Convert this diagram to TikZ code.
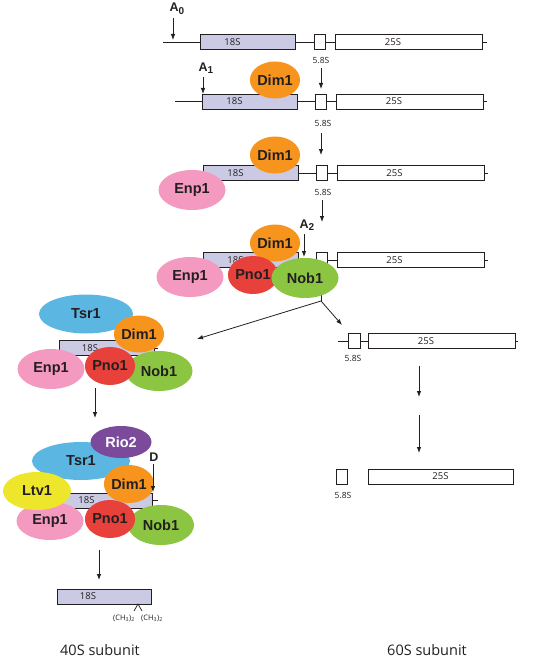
\documentclass[tikz,border=0pt]{standalone}
\usepackage{fontspec}
\setmainfont{Liberation Sans}
\newfontfamily\labfont{Open Sans}
\usetikzlibrary{shapes.geometric,arrows.meta,positioning}
\definecolor{ink}{HTML}{231F20}
\definecolor{lav}{HTML}{CBCAE5}
\definecolor{dimc}{HTML}{F7941D}
\definecolor{enpc}{HTML}{F49AC1}
\definecolor{pnoc}{HTML}{E8403B}
\definecolor{nobc}{HTML}{8BC541}
\definecolor{tsrc}{HTML}{5BB7E1}
\definecolor{rioc}{HTML}{7B4A9B}
\definecolor{ltvc}{HTML}{EDE62B}
\newcommand{\cutsite}[1]{A\raisebox{-2.5pt}{\fontsize{10}{10}\selectfont #1}}
\tikzset{
  rna/.style={draw=ink, line width=0.8pt, fill=white, inner sep=0pt, minimum height=15pt},
  s18/.style={rna, fill=lav, minimum width=95pt, label={[boxlab,xshift=#1]center:18S}},
  s18/.default=-15pt,
  s25/.style={rna, minimum width=147pt, label={[boxlab,xshift=#1]center:25S}},
  s25/.default=-16pt,
  s58/.style={rna, minimum width=11pt},
  lnk/.style={draw=ink, line width=0.8pt},
  arr/.style={draw=ink, line width=0.8pt, -{Latex[length=6pt,width=4.5pt]}},
  prot/.style={ellipse, inner sep=0pt, text=ink, font=\bfseries\fontsize{14.5}{16}\selectfont},
  dim/.style={prot, fill=dimc, minimum width=49pt, minimum height=37pt},
  enp/.style={prot, fill=enpc, minimum width=67pt, minimum height=40pt},
  pno/.style={prot, fill=pnoc, minimum width=46pt, minimum height=38pt},
  nob/.style={prot, fill=nobc, minimum width=67pt, minimum height=40pt},
  tsr/.style={prot, fill=tsrc, minimum width=96pt, minimum height=39pt},
  rio/.style={prot, fill=rioc, text=white, minimum width=61pt, minimum height=32pt},
  ltv/.style={prot, fill=ltvc, minimum width=68pt, minimum height=38pt},
  boxlab/.style={text=ink, inner sep=0pt, font=\labfont\fontsize{9.5}{11}\selectfont},
  smlab/.style={text=ink, inner sep=0pt, font=\labfont\fontsize{8.5}{10}\selectfont},
  site/.style={text=ink, inner sep=0pt, font=\bfseries\fontsize{12.5}{14}\selectfont},
  chlab/.style={text=ink, inner sep=0pt, font=\labfont\fontsize{7.5}{8}\selectfont},
  sublab/.style={text=ink, inner sep=0pt, font=\labfont\fontsize{14.5}{16}\selectfont},
}

\begin{document}
\begin{tikzpicture}[x=1pt,y=-1pt]
\useasboundingbox (0,0) rectangle (533,658);

% row 1: full precursor, cut at A0
\coordinate (in1) at (163,42);
\coordinate (out1) at (487,42);
\node[s18] (r1a) at (247.5,42) {};
\node[s58] (r1b) at (319.5,42) {};
\node[s25] (r1c) at (409,42) {};
\draw[lnk] (in1) -- (r1a) (r1a) -- (r1b) (r1b) -- (r1c) (r1c) -- (out1);
\node[smlab] (m1) at (321,60) {5.8S};
\node[site] (A0) at (177,9) {\cutsite{0}};

% row 2: Dim1 bound, cut at A1
\coordinate (in2) at (175,101.5);
\coordinate (out2) at (487,101.5);
\node[s18] (r2a) at (249.5,101.5) {};
\node[s58] (r2b) at (320.5,101.5) {};
\node[s25] (r2c) at (410,101.5) {};
\draw[lnk] (in2) -- (r2a) (r2a) -- (r2b) (r2b) -- (r2c) (r2c) -- (out2);
\node[smlab] (m2) at (323,123) {5.8S};
\node[dim] (d2) at (275,80) {Dim1};
\node[site] (A1) at (206,68) {\cutsite{1}};

% row 3: + Enp1
\coordinate (out3) at (488,173);
\node[s18] (r3a) at (250.5,173) {};
\node[s58] (r3b) at (321.5,173) {};
\node[s25] (r3c) at (410.5,173) {};
\draw[lnk] (r3a) -- (r3b) (r3b) -- (r3c) (r3c) -- (out3);
\node[smlab] (m3) at (323,192) {5.8S};
\node[dim] (d3) at (275,155) {Dim1};
\node[enp] (e3) at (192,190) {Enp1};

% row 4: + Pno1, Nob1, cut at A2
\coordinate (out4) at (488,260);
\coordinate (stem) at (321,292);
\coordinate (fork) at (321,301);
\node[s18] (r4a) at (250.5,260) {};
\node[s58] (r4b) at (321.5,260) {};
\node[s25] (r4c) at (410.5,260) {};
\draw[lnk] (r4a) -- (r4b) (r4b) -- (r4c) (r4c) -- (out4);
\draw[lnk] (stem) -- (fork);
\node[dim] (d4) at (275,243) {Dim1};
\node[enp] (e4) at (190,277) {Enp1};
\node[pno] (p4) at (253,275) {Pno1};
\node[nob] (n4) at (305,278) {Nob1};
\node[site] (A2) at (307,225) {\cutsite{2}};

% 60S branch
\coordinate (in5) at (338,341);
\coordinate (out5) at (518,341);
\node[s58, minimum width=12pt] (r5b) at (354,341) {};
\node[s25] (r5c) at (442,341) {};
\draw[lnk] (in5) -- (r5b) (r5b) -- (r5c) (r5c) -- (out5);
\node[smlab] (m5) at (353,358) {5.8S};
\node[s58] (r6b) at (341.5,476.5) {};
\node[s25=0pt, minimum width=145pt] (r6c) at (440.5,476.5) {};
\node[smlab] (m6) at (343,495) {5.8S};

% 40S branch, step 1
\coordinate (tail5) at (158,348);
\node[s18=-17pt] (l5a) at (107,348) {};
\draw[lnk] (l5a) -- (tail5);
\node[tsr, minimum width=94pt] (t5) at (86,314) {Tsr1};
\node[dim] (d5) at (139,334) {Dim1};
\node[enp] (e5) at (51,369) {Enp1};
\node[nob] (n5) at (159,371) {Nob1};
\node[pno, minimum width=44pt] (p5) at (110,366) {Pno1};

% 40S branch, step 2
\coordinate (tail6) at (158,500.5);
\node[s18=-18pt] (l6a) at (104.5,500.5) {};
\draw[lnk] (l6a) -- (tail6);
\node[enp, minimum height=38pt] (e6) at (50,521) {Enp1};
\node[nob, minimum width=66pt] (n6) at (161,525) {Nob1};
\node[pno, minimum width=48pt] (p6) at (110,519) {Pno1};
\node[tsr, minimum width=98pt, minimum height=38pt] (t6) at (81,461) {Tsr1};
\node[rio] (o6) at (121,442) {Rio2};
\node[dim, minimum width=48pt, minimum height=38pt] (d6) at (129,484) {Dim1};
\node[ltv] (v6) at (37,491) {Ltv1};
\node[site] (Dsite) at (154,457) {D};

% mature 18S with dimethylation
\node[s18=-16pt, minimum width=94pt] (l7a) at (104,596.5) {};
\coordinate (mx) at (138,604);
\coordinate (ml) at (134,611);
\coordinate (mr) at (142,611);
\draw[lnk, line width=0.7pt] (ml) -- (mx) -- (mr);
\node[chlab] (ch1) at (124,618) {(CH\textsubscript{3})\textsubscript{2}};
\node[chlab] (ch2) at (152,618) {(CH\textsubscript{3})\textsubscript{2}};

% arrows
\coordinate (a0t) at (173,18);  \coordinate (a0h) at (173,40);
\coordinate (a1t) at (203,77);  \coordinate (a1h) at (203,94);
\coordinate (a2t) at (304,234); \coordinate (a2h) at (304,257);
\coordinate (dt) at (153,464);  \coordinate (dh) at (153,492);
\coordinate (s1t) at (321,68);  \coordinate (s1h) at (321,89);
\coordinate (s2t) at (321,133); \coordinate (s2h) at (321,155);
\coordinate (s3t) at (322,200); \coordinate (s3h) at (322,222);
\coordinate (lft) at (197,339); \coordinate (rgt) at (342,325);
\coordinate (u1t) at (419,366); \coordinate (u1h) at (419,397);
\coordinate (u2t) at (419,415); \coordinate (u2h) at (419,453);
\coordinate (k1t) at (95,388);  \coordinate (k1h) at (95,418);
\coordinate (k2t) at (99,550);  \coordinate (k2h) at (99,580);
\foreach \s/\e in {a0t/a0h,a1t/a1h,a2t/a2h,dt/dh,s1t/s1h,s2t/s2h,s3t/s3h,
                   fork/lft,fork/rgt,u1t/u1h,u2t/u2h,k1t/k1h,k2t/k2h}{
  \draw[arr] (\s) -- (\e);
}

\node[sublab] (sub40) at (100,650) {40S subunit};
\node[sublab] (sub60) at (427,650) {60S subunit};
\end{tikzpicture}
\end{document}
